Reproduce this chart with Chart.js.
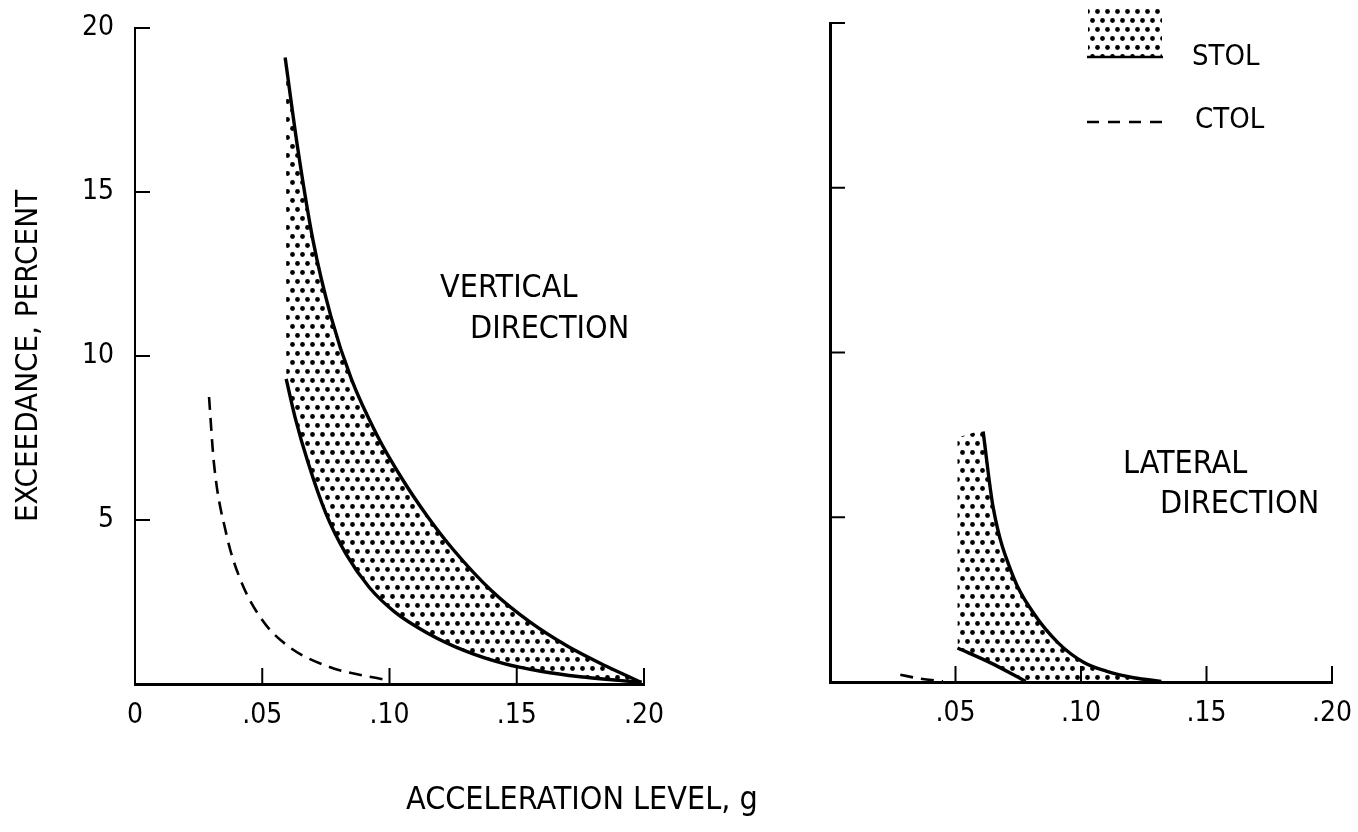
<!DOCTYPE html>
<html>
<head>
<meta charset="utf-8">
<script src="https://cdn.jsdelivr.net/npm/chart.js@4.4.0/dist/chart.umd.min.js"></script>
<style>
  html, body { margin: 0; padding: 0; background: #fff; }
  body { width: 1358px; height: 832px; position: relative; overflow: hidden;
         font-family: "DejaVu Sans Condensed", "Liberation Sans Narrow", sans-serif; }
  canvas { position: absolute; top: 0; }
  #vert { left: 0; }
  #lat { left: 800px; }
  #xtitle { position: absolute; left: 406px; top: 782px; font-size: 32px; line-height: 1;
            white-space: nowrap; color: #000; }
</style>
</head>
<body>
<canvas id="vert" width="800" height="832"></canvas>
<canvas id="lat" width="558" height="832"></canvas>
<div id="xtitle">ACCELERATION LEVEL, g</div>
<script>
// ticks
const xTicks = [0, 0.05, 0.10, 0.15, 0.20];
const xTickLabels = ['0', '.05', '.10', '.15', '.20'];
const latXTicks = [0.05, 0.10, 0.15, 0.20];
const latXTickLabels = ['.05', '.10', '.15', '.20'];
const yTicks = [5, 10, 15, 20];
const yTickLabels = ['5', '10', '15', '20'];

// vertical direction (left panel)
const vertStolUpper = [
  {x: 0.059, y: 19.1}, {x: 0.064, y: 16.3}, {x: 0.070, y: 13.5}, {x: 0.077, y: 11.2},
  {x: 0.085, y: 9.3}, {x: 0.095, y: 7.6}, {x: 0.105, y: 6.25}, {x: 0.115, y: 5.1},
  {x: 0.125, y: 4.1}, {x: 0.140, y: 2.85}, {x: 0.155, y: 1.9}, {x: 0.170, y: 1.15},
  {x: 0.185, y: 0.55}, {x: 0.199, y: 0.05}
];
const vertStolLower = [
  {x: 0.0594, y: 9.3}, {x: 0.063, y: 8.1}, {x: 0.068, y: 6.75}, {x: 0.075, y: 5.2},
  {x: 0.083, y: 3.95}, {x: 0.092, y: 2.95}, {x: 0.102, y: 2.2}, {x: 0.115, y: 1.55},
  {x: 0.130, y: 1.0}, {x: 0.145, y: 0.62}, {x: 0.160, y: 0.38}, {x: 0.175, y: 0.22},
  {x: 0.190, y: 0.11}, {x: 0.199, y: 0.05}
];
const vertCtol = [
  {x: 0.0291, y: 8.75}, {x: 0.031, y: 6.74}, {x: 0.0358, y: 4.6}, {x: 0.041, y: 3.26},
  {x: 0.050, y: 1.95}, {x: 0.0606, y: 1.13}, {x: 0.0764, y: 0.52}, {x: 0.0988, y: 0.12}
];

// lateral direction (right panel)
const latStolUpper = [
  {x: 0.061, y: 7.6}, {x: 0.065, y: 5.3}, {x: 0.073, y: 3.2}, {x: 0.081, y: 2.1},
  {x: 0.091, y: 1.18}, {x: 0.101, y: 0.6}, {x: 0.110, y: 0.33}, {x: 0.121, y: 0.13},
  {x: 0.132, y: 0.02}
];
const latStolLower = [
  {x: 0.0508, y: 1.03}, {x: 0.064, y: 0.58}, {x: 0.0748, y: 0.15}, {x: 0.078, y: 0.02}
];
const latShadeCorner = [{x: 0.050, y: 7.4}];
const latCtol = [
  {x: 0.028, y: 0.22}, {x: 0.036, y: 0.10}, {x: 0.045, y: 0.02}
];

const FONT = '"DejaVu Sans Condensed", "Liberation Sans Narrow", sans-serif';
Chart.defaults.font.family = FONT;
Chart.defaults.color = '#000';

function dots(ctx) {
  const c = document.createElement('canvas');
  c.width = 10; c.height = 18;
  const g = c.getContext('2d');
  g.fillStyle = '#000';
  [[2.5, 2.5], [7.5, 11.5]].forEach(p => {
    g.beginPath(); g.arc(p[0], p[1], 2.4, 0, Math.PI * 2); g.fill();
  });
  return ctx.createPattern(c, 'repeat');
}

function line(data, extra) {
  return Object.assign({
    data: data, borderColor: '#000', borderWidth: 3.4, pointRadius: 0,
    cubicInterpolationMode: 'monotone', fill: false, clip: false
  }, extra || {});
}

// tick marks pointing into the plot
const innerTicks = {
  id: 'innerTicks',
  afterDatasetsDraw(chart) {
    const {ctx, scales: {x, y}} = chart;
    ctx.save();
    ctx.strokeStyle = '#000';
    ctx.lineWidth = 2;
    x.ticks.forEach(t => {
      if (t.value === 0) return;
      const px = x.getPixelForValue(t.value);
      ctx.beginPath(); ctx.moveTo(px, y.bottom); ctx.lineTo(px, y.bottom - 16); ctx.stroke();
    });
    y.ticks.forEach(t => {
      if (t.value === 0) return;
      const py = y.getPixelForValue(t.value);
      ctx.beginPath(); ctx.moveTo(x.left, py); ctx.lineTo(x.left + 15, py); ctx.stroke();
    });
    ctx.restore();
  }
};

const notes = {
  id: 'notes',
  afterDraw(chart, args, opts) {
    const ctx = chart.ctx;
    ctx.save();
    ctx.fillStyle = '#000';
    ctx.font = '32px ' + FONT;
    ctx.textAlign = 'left';
    ctx.textBaseline = 'alphabetic';
    (opts.items || []).forEach(n => ctx.fillText(n.text, n.x, n.y));
    ctx.restore();
  }
};

function noPad(s) {
  s.paddingTop = 0; s.paddingBottom = 0; s.paddingLeft = 0; s.paddingRight = 0;
}

function scales(ticksX, labelsX, showY, yWidth, xHeight, yBorder) {
  return {
    x: {
      type: 'linear', min: 0, max: 0.2,
      afterBuildTicks: s => { s.ticks = ticksX.map(v => ({value: v})); },
      afterFit: s => { s.height = xHeight; noPad(s); },
      grid: {display: true, drawOnChartArea: false, drawTicks: false},
      border: {display: true, color: '#000', width: 3},
      ticks: {callback: (v, i) => labelsX[i], font: {size: 28}, padding: 15, maxRotation: 0}
    },
    y: {
      type: 'linear', min: 0, max: 20,
      afterBuildTicks: s => { s.ticks = yTicks.map(v => ({value: v})); },
      afterFit: s => { s.width = yWidth; noPad(s); },
      grid: {display: true, drawOnChartArea: false, drawTicks: false},
      border: {display: true, color: '#000', width: yBorder},
      ticks: {display: showY, callback: (v, i) => yTickLabels[i], font: {size: 28}, padding: 21},
      title: {display: showY, text: 'EXCEEDANCE, PERCENT', font: {size: 31}, padding: {top: 10, bottom: 0}}
    }
  };
}

// left panel
const vctx = document.getElementById('vert').getContext('2d');
new Chart(vctx, {
  type: 'line',
  data: {
    datasets: [
      line(vertStolUpper, {fill: '+1', backgroundColor: dots(vctx)}),
      line(vertStolLower),
      line(vertCtol, {borderWidth: 2.6, borderDash: [13, 8]})
    ]
  },
  options: {
    responsive: false, animation: false,
    layout: {padding: {left: 0, top: 28, right: 156, bottom: 0}},
    scales: scales(xTicks, xTickLabels, true, 135, 148, 2),
    plugins: {
      legend: {display: false}, tooltip: {enabled: false},
      notes: {items: [
        {text: 'VERTICAL', x: 440, y: 297},
        {text: 'DIRECTION', x: 470, y: 338}
      ]}
    }
  },
  plugins: [innerTicks, notes]
});

// right panel
const lctx = document.getElementById('lat').getContext('2d');
const latPattern = dots(lctx);

const stolLegend = {
  id: 'stolLegend',
  afterDraw(chart) {
    const ctx = chart.ctx;
    ctx.save();
    ctx.fillStyle = latPattern;
    ctx.fillRect(288, 8, 74, 48);
    ctx.strokeStyle = '#000';
    ctx.lineWidth = 2.5;
    ctx.beginPath(); ctx.moveTo(287, 57); ctx.lineTo(363, 57); ctx.stroke();
    ctx.lineWidth = 2.6;
    ctx.setLineDash([12, 9]);
    ctx.beginPath(); ctx.moveTo(287, 122); ctx.lineTo(363, 122); ctx.stroke();
    ctx.setLineDash([]);
    ctx.fillStyle = '#000';
    ctx.font = '29px ' + FONT;
    ctx.fillText('STOL', 392, 65);
    ctx.fillText('CTOL', 395, 128);
    ctx.restore();
  }
};

new Chart(lctx, {
  type: 'line',
  data: {
    datasets: [
      line(latShadeCorner.concat(latStolUpper),
           {borderColor: 'rgba(0,0,0,0)', fill: '+1', backgroundColor: latPattern}),
      line(latStolLower.concat(latStolUpper.slice(-1)), {borderColor: 'rgba(0,0,0,0)'}),
      line(latStolUpper),
      line(latStolLower),
      line(latCtol, {borderWidth: 2.6, borderDash: [13, 8]})
    ]
  },
  options: {
    responsive: false, animation: false,
    layout: {padding: {left: 0, top: 23, right: 26, bottom: 0}},
    scales: scales(latXTicks, latXTickLabels, false, 30, 150, 3),
    plugins: {
      legend: {display: false}, tooltip: {enabled: false},
      notes: {items: [
        {text: 'LATERAL', x: 323, y: 473},
        {text: 'DIRECTION', x: 360, y: 513}
      ]}
    }
  },
  plugins: [innerTicks, notes, stolLegend]
});
</script>
</body>
</html>
